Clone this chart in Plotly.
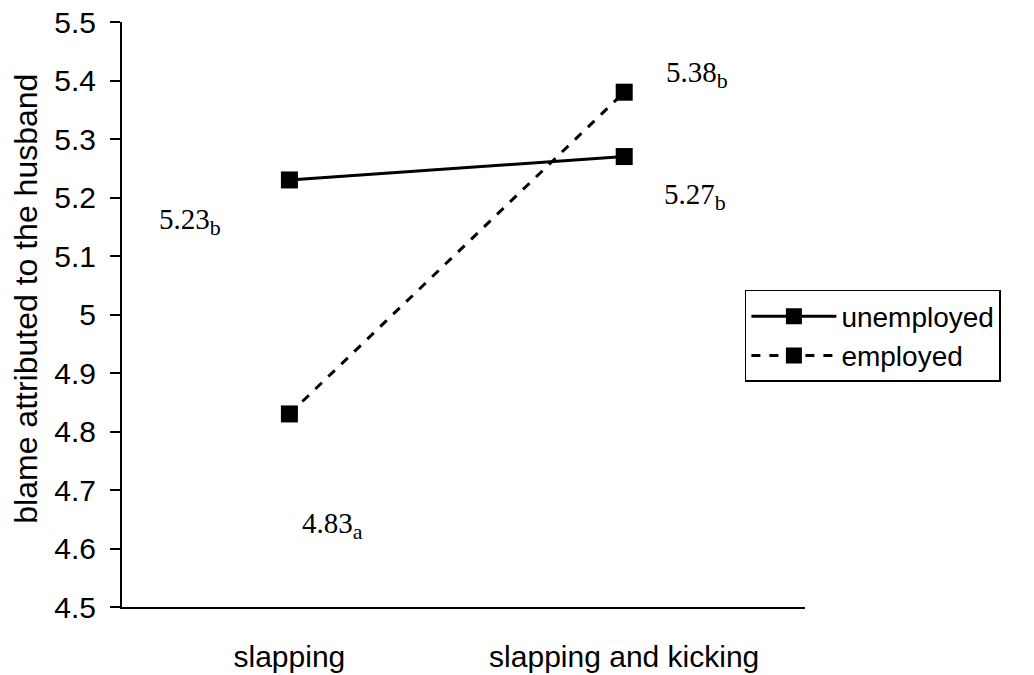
import plotly.graph_objects as go

categories = ["slapping", "slapping and kicking"]
unemployed = [5.23, 5.27]
employed = [4.83, 5.38]
series_names = ["unemployed", "employed"]
y_ticks = [4.5, 4.6, 4.7, 4.8, 4.9, 5.0, 5.1, 5.2, 5.3, 5.4, 5.5]
y_tick_labels = ["4.5", "4.6", "4.7", "4.8", "4.9", "5", "5.1", "5.2", "5.3", "5.4", "5.5"]
y_title = "blame attributed to the husband"
# (value text, subscript, category index, value)
value_labels = [
    ("5.23", "b", 0, 5.23),
    ("5.27", "b", 1, 5.27),
    ("4.83", "a", 0, 4.83),
    ("5.38", "b", 1, 5.38),
]

SANS = "Liberation Sans, Arial, sans-serif"
SERIF = "Liberation Serif, Times New Roman, serif"

fig = go.Figure()
fig.add_trace(go.Scatter(
    x=[0, 1], y=unemployed, name=series_names[0], mode="lines+markers",
    line=dict(color="black", width=3),
    marker=dict(symbol="square", size=17, color="black"),
))
fig.add_trace(go.Scatter(
    x=[0, 1], y=employed, name=series_names[1], mode="lines+markers",
    line=dict(color="black", width=3, dash="dash"),
    marker=dict(symbol="square", size=17, color="black"),
))

# label offsets (pixels) relative to each point: (xshift, yshift)
offsets = {(0, 5.23): (-99, -42), (1, 5.27): (71, -40), (0, 4.83): (43, -112), (1, 5.38): (73, 18)}
for txt, sub, xi, yv in value_labels:
    dx, dy = offsets[(xi, yv)]
    fig.add_annotation(
        x=xi, y=yv, xref="x", yref="y",
        text=f"{txt}<sub><span style='font-size:22px'>{sub}</span></sub>",
        showarrow=False, xshift=dx, yshift=dy,
        font=dict(family=SERIF, size=29, color="black"),
    )

# y axis title
fig.add_annotation(
    x=0, y=0.527, xref="paper", yref="paper", xshift=-96,
    text=y_title, textangle=-90, showarrow=False,
    xanchor="center", yanchor="middle",
    font=dict(family=SANS, size=32, color="black"),
)

# small overhang of the category axis left of the value axis
fig.add_shape(type="line", xref="paper", yref="paper", x0=-0.0146, x1=0, y0=0, y1=0,
              line=dict(color="black", width=2))

fig.update_layout(
    width=1034, height=675,
    paper_bgcolor="white", plot_bgcolor="white",
    margin=dict(l=122, r=229, t=22, b=68),
    font=dict(family=SANS, size=30, color="black"),
    xaxis=dict(
        range=[-0.5, 1.54], tickvals=[0, 1], ticktext=categories,
        showline=True, linecolor="black", linewidth=2, ticks="",
        showgrid=False, zeroline=False, ticklabelstandoff=22,
        tickfont=dict(size=30), automargin=False,
    ),
    yaxis=dict(
        range=[4.5, 5.5], tickvals=y_ticks, ticktext=y_tick_labels,
        showline=True, linecolor="black", linewidth=2, ticks="outside", ticklen=10,
        tickcolor="black", tickwidth=2, ticklabelstandoff=8,
        showgrid=False, zeroline=False,
        tickfont=dict(size=30), automargin=False,
    ),
    legend=dict(
        x=0.912, y=0.542, xanchor="left", yanchor="top",
        bordercolor="black", borderwidth=1.5, bgcolor="white",
        font=dict(size=28), itemwidth=85, tracegroupgap=0,
    ),
    showlegend=True,
)

fig.write_html("out.html", config={"displayModeBar": False},
               post_script="document.body.style.margin='0';")
